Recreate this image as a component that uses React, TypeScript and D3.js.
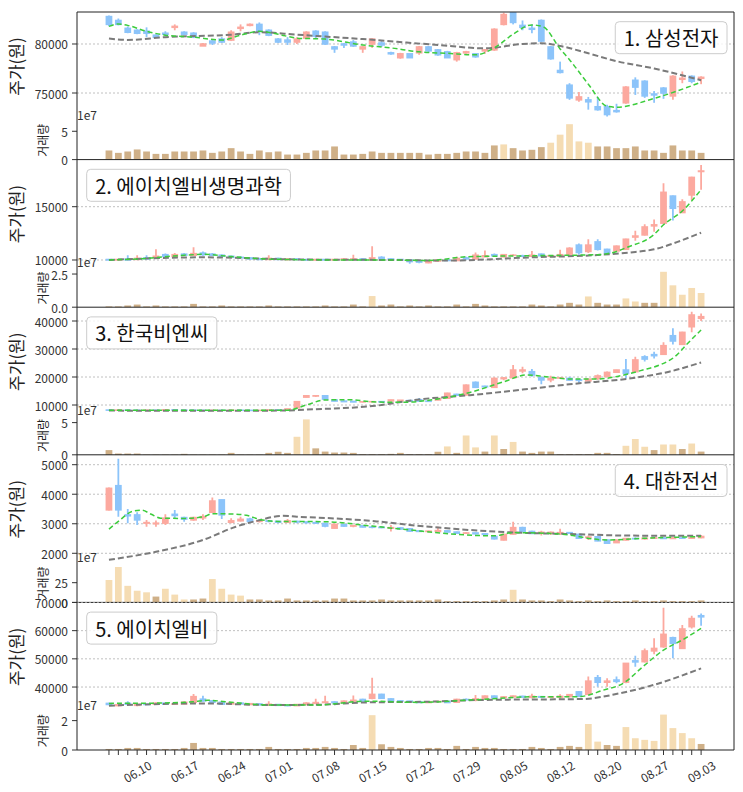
import React, { useEffect, useRef } from 'react';
import * as d3 from 'd3';

// trading days (2021), one candle each
const DATES = [
  '06.07', '06.08', '06.09', '06.10', '06.11', '06.14', '06.15', '06.16', '06.17', '06.18',
  '06.21', '06.22', '06.23', '06.24', '06.25', '06.28', '06.29', '06.30',
  '07.01', '07.02', '07.05', '07.06', '07.07', '07.08', '07.09', '07.12', '07.13', '07.14',
  '07.15', '07.16', '07.19', '07.20', '07.21', '07.22', '07.23', '07.26', '07.27', '07.28',
  '07.29', '07.30',
  '08.02', '08.03', '08.04', '08.05', '08.06', '08.09', '08.10', '08.11', '08.12', '08.13',
  '08.17', '08.18', '08.19', '08.20', '08.23', '08.24', '08.25', '08.26', '08.27', '08.30',
  '08.31',
  '09.01', '09.02', '09.03',
];
const TICK_LABELS = ['06.10', '06.17', '06.24', '07.01', '07.08', '07.15', '07.22', '07.29', '08.05', '08.12', '08.20', '08.27', '09.03'];

type OHLC = [number, number, number, number]; // open, high, low, close

// 1. 삼성전자
const SAMSUNG_OHLC: OHLC[] = [
  [82800, 82900, 81800, 82000], [82400, 82600, 81900, 82000], [81600, 81800, 81100, 81200], [81400, 81500, 81000, 81100],
  [81300, 81700, 80700, 81100], [80900, 81000, 80600, 80700], [81100, 81300, 80800, 81000], [81700, 82000, 81400, 81800],
  [81200, 81300, 80900, 81000], [81100, 81200, 80600, 80700], [79800, 80100, 79800, 80000], [80300, 80400, 79900, 80100],
  [80500, 80700, 80100, 80200], [80400, 81400, 80300, 81200], [81600, 82000, 81300, 81700], [81900, 82100, 81800, 82000],
  [82000, 82200, 80900, 81300], [81400, 81500, 80800, 80900], [80500, 80600, 80100, 80200], [80400, 80700, 79900, 80200],
  [80200, 80700, 80000, 80500], [80600, 81300, 80500, 81200], [81300, 81400, 80500, 80800], [81200, 81300, 79900, 80000],
  [79700, 79800, 79100, 79500], [80000, 80100, 79600, 79900], [80200, 80400, 79700, 79800], [79500, 79800, 79100, 79700],
  [80000, 80600, 79600, 80500], [80100, 80300, 79700, 79900], [79100, 79200, 78900, 79000], [78600, 79100, 78500, 79000],
  [79000, 79000, 78600, 78600], [79100, 79800, 78900, 79700], [79700, 79800, 79100, 79300], [79400, 79500, 78800, 78900],
  [79200, 79300, 78600, 78600], [78400, 79200, 78200, 79100], [79100, 79300, 79000, 79200], [79000, 79000, 78600, 78700],
  [79300, 79500, 79000, 79400], [79400, 81600, 79300, 81500], [82000, 83200, 81900, 83000], [83500, 83600, 82000, 82200],
  [81900, 82400, 81400, 81700], [81600, 82000, 81100, 81500], [82400, 82500, 80200, 80300], [79700, 79800, 78400, 78500],
  [77300, 78200, 77000, 77100], [75800, 76000, 74300, 74500], [74300, 75100, 74100, 74600], [74300, 74600, 73300, 74100],
  [73600, 74600, 73200, 73300], [73600, 73800, 72600, 72800], [73200, 73900, 73000, 73100], [74000, 75700, 73900, 75600],
  [76300, 76600, 74800, 75600], [76200, 76300, 74500, 74700], [74900, 75200, 74000, 74800], [75500, 75600, 74400, 75000],
  [74700, 76800, 74300, 76700], [76400, 77200, 76000, 76500], [76700, 76800, 76000, 76200], [76500, 76700, 75900, 76600],
];
const SAMSUNG_VOL = [
  1.61, 1.19, 1.43, 1.79, 1.43, 1.01, 1.01, 1.43, 1.43, 1.43, 1.61, 1.19, 1.43, 2.02, 1.43, 1.01,
  1.61, 1.3, 1.43, 0.89, 0.89, 1.19, 1.61, 1.61, 2.32, 0.89, 0.89, 1.01, 1.43, 1.19, 1.19, 1.19,
  1.19, 1.19, 0.89, 1.01, 1.01, 1.19, 1.43, 1.43, 1.19, 2.5, 2.68, 2.02, 1.61, 1.73, 2.2, 2.98,
  4.4, 6.25, 3.21, 2.98, 2.32, 2.32, 2.02, 2.02, 2.32, 1.61, 1.61, 1.19, 2.5, 1.61, 1.61, 1.19,
];
const SAMSUNG_HOT = [42, 47, 48, 49, 50, 51];
const SAMSUNG_FAST = [
  [0, 81800], [1, 82050], [2, 81900], [4, 81300], [6, 80900], [9, 80700], [12, 80400], [14, 80900],
  [16, 81300], [18, 81000], [20, 80600], [23, 80500], [27, 79900], [30, 79600], [33, 79200], [36, 79050],
  [39, 78900], [41, 79600], [43, 81000], [45, 81950], [46.2, 81750], [48, 79500], [49, 78400], [51, 75900],
  [53, 73650], [54, 73550], [58, 74450], [63, 76100],
];
const SAMSUNG_SLOW = [
  [0, 80550], [2, 80420], [6, 80700], [13, 80950], [16, 81200], [20, 80950], [27, 80500], [35, 79900],
  [40, 79560], [44, 80000], [46, 80080], [48, 79800], [51, 79050], [54, 78250], [58, 77500], [63, 76300],
];

// 2. 에이치엘비생명과학
const HLBLS_OHLC: OHLC[] = [
  [10050, 10100, 9950, 10000], [10000, 10100, 9950, 10050], [10100, 10450, 10000, 10000], [10050, 10450, 10000, 10150],
  [10200, 10450, 10050, 10100], [10200, 11000, 10150, 10350], [10500, 10600, 10300, 10350], [10350, 10650, 10300, 10500],
  [10550, 10650, 10400, 10450], [10450, 11200, 10400, 10600], [10650, 10800, 10400, 10500], [10550, 10650, 10400, 10450],
  [10450, 10550, 10300, 10350], [10350, 10400, 10200, 10250], [10250, 10350, 10150, 10200], [10200, 10250, 10050, 10100],
  [10100, 10200, 10000, 10050], [10050, 10450, 10000, 10150], [10150, 10200, 10000, 10050], [10050, 10150, 9950, 10100],
  [10100, 10150, 10000, 10050], [10050, 10100, 9950, 10000], [10000, 10100, 9950, 10050], [10050, 10100, 9950, 10000],
  [10000, 10100, 9950, 10050], [10050, 10150, 10000, 10100], [10050, 10500, 10000, 10100], [10100, 10150, 9950, 10000],
  [10000, 11300, 9950, 10200], [10250, 10350, 10100, 10150], [10100, 10150, 10000, 10050], [10050, 10100, 9950, 10000],
  [10000, 10050, 9650, 9850], [9900, 9950, 9700, 9800], [9750, 9950, 9700, 9900], [9900, 10050, 9850, 10000],
  [10000, 10050, 9900, 9950], [9950, 10300, 9900, 10150], [10200, 10300, 10050, 10100], [10100, 10700, 10050, 10450],
  [10300, 10900, 10250, 10400], [10500, 10600, 10350, 10400], [10300, 10550, 10250, 10500], [10450, 10550, 10350, 10450],
  [10400, 10500, 10300, 10350], [10350, 10850, 10300, 10450], [10550, 10600, 10300, 10400], [10350, 10450, 10250, 10400],
  [10350, 10950, 10300, 10500], [10550, 11200, 10500, 11100], [11400, 11550, 10500, 10700], [10800, 11950, 10650, 11400],
  [11700, 11950, 10900, 11000], [11000, 11050, 10550, 10650], [10850, 11350, 10800, 11300], [11000, 12000, 10950, 11950],
  [12150, 12750, 11800, 12250], [12350, 13350, 12300, 13100], [13200, 13800, 12650, 13300], [13450, 17200, 13400, 16350],
  [16000, 16050, 13700, 14850], [14450, 15700, 14400, 15450], [16100, 17800, 15600, 17750], [18300, 18900, 16600, 18350],
];
const HLBLS_VOL = [
  0.06, 0.06, 0.13, 0.2, 0.06, 0.13, 0.06, 0.06, 0.06, 0.25, 0.06, 0.06, 0.13, 0.06, 0.06, 0.06,
  0.06, 0.13, 0.06, 0.06, 0.06, 0.06, 0.06, 0.13, 0.06, 0.06, 0.2, 0.06, 0.84, 0.13, 0.2, 0.06,
  0.13, 0.06, 0.13, 0.06, 0.06, 0.2, 0.06, 0.25, 0.13, 0.06, 0.06, 0.06, 0.06, 0.2, 0.13, 0.06,
  0.2, 0.33, 0.2, 0.81, 0.33, 0.2, 0.2, 0.66, 0.43, 0.33, 0.33, 2.67, 1.65, 0.94, 1.45, 1.07,
];
const HLBLS_HOT = [28, 51, 55, 56, 59, 60, 61, 62, 63];
const HLBLS_FAST = [
  [0, 10000], [4, 10150], [8, 10450], [10, 10530], [13, 10320], [17, 10090], [25, 10000], [30, 10000],
  [34, 9950], [38, 10300], [45, 10400], [52, 10500], [54, 10800], [55, 11150], [58, 12400], [59, 13300],
  [61, 14600], [63, 16600],
];
const HLBLS_SLOW = [
  [0, 10000], [10, 10250], [20, 10050], [30, 10000], [36, 9950], [45, 10250], [52, 10470], [56, 10750],
  [58, 11000], [60.5, 11700], [63, 12560],
];

// 3. 한국비엔씨
const BNC_OHLC: OHLC[] = [
  [8200, 8300, 8100, 8150], [8150, 8250, 8100, 8200], [8200, 8250, 8100, 8150], [8150, 8200, 8050, 8100],
  [8100, 8200, 8050, 8150], [8150, 8200, 8100, 8120], [8150, 8400, 8100, 8300], [8300, 8350, 8150, 8200],
  [8200, 8250, 8100, 8150], [8150, 8200, 8050, 8100], [8100, 8150, 8000, 8050], [8050, 8150, 8000, 8100],
  [8100, 8150, 8050, 8080], [8080, 8200, 8000, 8150], [8150, 8200, 8050, 8100], [8100, 8150, 8000, 8050],
  [8050, 8100, 8000, 8080], [8080, 8300, 8050, 8250], [8250, 8400, 8150, 8200], [8200, 8700, 8150, 8600],
  [9000, 11300, 8900, 11200], [12800, 13600, 12700, 13300], [13200, 13500, 12900, 13300], [13300, 13400, 12000, 12100],
  [11800, 11900, 11300, 11400], [11400, 11600, 11100, 11200], [11300, 11400, 11000, 11100], [11100, 11300, 10900, 11150],
  [11150, 11400, 11000, 11200], [11200, 11300, 11000, 11100], [11450, 11900, 11300, 11800], [11500, 11800, 11400, 11700],
  [11600, 11700, 11300, 11400], [11900, 12500, 11200, 11400], [11400, 11600, 11200, 11300], [11800, 12400, 11700, 12350],
  [12400, 14400, 12200, 14200], [13800, 14000, 13300, 13500], [13600, 17300, 13500, 17100], [18100, 18400, 16100, 16300],
  [16700, 16900, 16300, 16500], [16300, 19900, 16100, 19500], [19400, 19900, 18800, 19700], [19750, 24300, 19600, 22500],
  [22150, 23700, 21300, 22500], [21900, 22850, 20100, 20700], [19750, 20100, 17400, 18950], [19000, 20450, 18100, 19400],
  [19600, 20000, 19300, 19750], [19500, 20100, 18700, 18900], [19000, 19300, 17700, 18800], [18600, 19300, 18500, 19250],
  [19500, 20900, 18900, 20400], [20150, 22000, 20100, 21650], [21700, 22600, 21600, 22500], [22500, 26400, 19500, 21300],
  [21900, 27200, 21700, 26100], [27200, 27800, 25500, 26400], [28000, 29000, 26600, 27600], [28100, 32400, 27850, 31200],
  [34750, 37400, 31650, 32850], [31650, 36200, 31400, 35950], [37950, 43300, 35950, 42150], [40950, 42700, 40000, 41550],
];
const BNC_VOL = [
  0.73, 0.2, 0.2, 0.2, 0.05, 0.05, 0.05, 0.05, 0.15, 0.05, 0.05, 0.05, 0.05, 0.3, 0.05, 0.05,
  0.05, 0.3, 0.47, 0.3, 2.8, 5.5, 1.0, 0.5, 0.35, 0.35, 0.3, 0.1, 0.1, 0.1, 0.15, 0.3,
  0.1, 0.1, 0.1, 0.47, 1.3, 0.3, 3.0, 1.15, 0.5, 3.0, 0.9, 2.0, 0.5, 0.3, 0.5, 0.5,
  0.1, 0.1, 0.1, 0.1, 0.3, 0.3, 0.1, 1.4, 2.45, 1.25, 0.73, 1.6, 1.6, 0.9, 1.75, 0.5,
];
const BNC_HOT = [20, 21, 36, 38, 39, 41, 43, 55, 56, 57, 59, 60, 62];
const BNC_FAST = [
  [0, 8100], [10, 8100], [19, 8150], [21, 10000], [23, 11800], [25.6, 11900], [28, 11150], [31, 10950],
  [35, 12150], [38.4, 14500], [42, 18300], [44.4, 20700], [46.5, 20100], [49, 19300], [52, 19300], [54.3, 20350],
  [56.8, 22500], [58.6, 24300], [60.4, 27800], [61.4, 31400], [63, 36800],
];
const BNC_SLOW = [
  [0, 8000], [10, 7950], [18, 8000], [22, 8500], [25, 8900], [28, 9600], [33, 12000], [38.4, 13500],
  [44, 15500], [49, 17400], [56, 19750], [59.6, 21900], [63, 25200],
];

// 4. 대한전선
const TAIHAN_OHLC: OHLC[] = [
  [3470, 4230, 3450, 4200], [4290, 5200, 3240, 3470], [3300, 3500, 3020, 3270], [3300, 3390, 2960, 3130],
  [3020, 3130, 2900, 3040], [3000, 3110, 2900, 3020], [3020, 3320, 2960, 3190], [3320, 3470, 3160, 3280],
  [3210, 3240, 3070, 3160], [3130, 3240, 3100, 3210], [3200, 3320, 3130, 3240], [3390, 3890, 3360, 3770],
  [3810, 3810, 3160, 3300], [3050, 3190, 3020, 3100], [3100, 3240, 3080, 3150], [3160, 3200, 3050, 3080],
  [3080, 3150, 3040, 3100], [3100, 3120, 3050, 3080], [3080, 3100, 3020, 3050], [3050, 3160, 3030, 3100],
  [3080, 3100, 3020, 3060], [3060, 3080, 3000, 3040], [3040, 3070, 3000, 3020], [3010, 3030, 2880, 2920],
  [2850, 3010, 2830, 2980], [2970, 3000, 2900, 2920], [2920, 2960, 2880, 2940], [2930, 2950, 2870, 2890],
  [2890, 2930, 2850, 2880], [2880, 2920, 2850, 2870], [2850, 2960, 2740, 2870], [2860, 2880, 2800, 2820],
  [2830, 2850, 2730, 2750], [2760, 2790, 2720, 2740], [2740, 2770, 2700, 2750], [2740, 2900, 2730, 2770],
  [2760, 2780, 2700, 2720], [2720, 2740, 2670, 2680], [2680, 2710, 2650, 2690], [2690, 2700, 2640, 2660],
  [2660, 2680, 2620, 2640], [2570, 2590, 2470, 2490], [2450, 2650, 2430, 2640], [2650, 3070, 2640, 2870],
  [2870, 2900, 2720, 2740], [2740, 2760, 2660, 2670], [2690, 2760, 2600, 2710], [2690, 2740, 2620, 2710],
  [2680, 2830, 2620, 2700], [2700, 2720, 2660, 2680], [2640, 2660, 2500, 2510], [2530, 2600, 2450, 2550],
  [2560, 2580, 2410, 2420], [2450, 2460, 2330, 2340], [2360, 2460, 2350, 2450], [2450, 2520, 2430, 2500],
  [2500, 2540, 2470, 2490], [2490, 2530, 2460, 2510], [2510, 2550, 2480, 2520], [2520, 2540, 2480, 2500],
  [2500, 2540, 2480, 2520], [2520, 2550, 2490, 2510], [2510, 2540, 2490, 2530], [2530, 2620, 2510, 2570],
];
const TAIHAN_VOL = [
  28.4, 44.9, 21, 14.8, 12.8, 7.4, 17.3, 9.9, 3.7, 3.7, 4.9, 29.6, 17.3, 9.9, 8.6, 3.7,
  3.7, 2.5, 2.5, 4.9, 2.5, 2.5, 2.5, 2.5, 4.9, 4.9, 2.5, 2.5, 2.5, 3.7, 2.5, 2.5,
  2.5, 2.5, 2.5, 3.7, 1.6, 1.6, 1.6, 1.6, 1.6, 2.5, 3.7, 16, 3.7, 2.5, 2.5, 1.6,
  3.7, 2.5, 1.6, 2.5, 1.6, 2.5, 1.6, 1.6, 2.5, 1.6, 1.6, 2.5, 1.6, 1.6, 1.6, 2.5,
];
const TAIHAN_HOT = [0, 1, 2, 3, 4, 6, 7, 8, 11, 12, 13, 14, 43];
const TAIHAN_FAST = [
  [0, 2820], [1, 3080], [2.5, 3420], [3.5, 3460], [4.5, 3320], [5.5, 3190], [8, 3180], [10, 3230],
  [11, 3340], [13, 3330], [14.6, 3290], [16, 3150], [18, 3080], [23, 3070], [28, 2920], [32, 2790],
  [37, 2640], [41, 2590], [43, 2700], [48, 2650], [53, 2450], [57, 2510], [63, 2565],
];
const TAIHAN_SLOW = [
  [0, 1780], [5, 2050], [10, 2450], [13.5, 2900], [16, 3120], [18.5, 3270], [20, 3240], [24, 3180],
  [28.5, 3080], [32, 2960], [37, 2820], [42.6, 2710], [50, 2645], [55, 2600], [63, 2590],
];

// 5. 에이치엘비
const HLB_OHLC: OHLC[] = [
  [34200, 34400, 33700, 33800], [33400, 33900, 33200, 33700], [34200, 35000, 33500, 33900], [33500, 34000, 33200, 33800],
  [33900, 34100, 33600, 33800], [33900, 34600, 33800, 34300], [34300, 34500, 33800, 33900], [33900, 34200, 33700, 34000],
  [34000, 35000, 33900, 34600], [34600, 37500, 34500, 36600], [35700, 36900, 34800, 35100], [35100, 35300, 34500, 34600],
  [34600, 34800, 33800, 33900], [34000, 34500, 33800, 34400], [34300, 34500, 33900, 34000], [33800, 34300, 33700, 34100],
  [34000, 34200, 33500, 33700], [33600, 35000, 33400, 33900], [33800, 33900, 33300, 33500], [33500, 33800, 33200, 33400],
  [33400, 33900, 33300, 33800], [33800, 34600, 33700, 34300], [34200, 35800, 34000, 34500], [34500, 36900, 34300, 34700],
  [34700, 35000, 34200, 34500], [34500, 35200, 34300, 35000], [35000, 37000, 34800, 35300], [35600, 35800, 34900, 35000],
  [36000, 43300, 35700, 37400], [37400, 37600, 35800, 36000], [35800, 36000, 35000, 35100], [35100, 35300, 34800, 35000],
  [35000, 35100, 34600, 34800], [34800, 35000, 34400, 34500], [34500, 35000, 34400, 34800], [34800, 35000, 34600, 34900],
  [34900, 35000, 34400, 34500], [34600, 35800, 34500, 35600], [35600, 35900, 35300, 35500], [35300, 37200, 35000, 35800],
  [35900, 37000, 35700, 36800], [36800, 37000, 35900, 36200], [36300, 36700, 36000, 36500], [36500, 37000, 36300, 36800],
  [36700, 36900, 36200, 36400], [36300, 37600, 36000, 36700], [36600, 36800, 36200, 36400], [36400, 36700, 36100, 36500],
  [36400, 37400, 35800, 36700], [36600, 37500, 36400, 37300], [38300, 38500, 36500, 36700], [37400, 43700, 37200, 42100],
  [43300, 44300, 40100, 41700], [41700, 43100, 40100, 42100], [42500, 43700, 41300, 42000], [41700, 48400, 41300, 48400],
  [49300, 51100, 47200, 48900], [49000, 53700, 48700, 52800], [52800, 57300, 51600, 53700], [54300, 68100, 53900, 58700],
  [57500, 57800, 50200, 55500], [53700, 62000, 53600, 60600], [61400, 65300, 60800, 64300], [65300, 66100, 61700, 64900],
];
const HLB_VOL = [
  0.07, 0.07, 0.14, 0.14, 0.07, 0.07, 0.07, 0.07, 0.14, 0.48, 0.14, 0.14, 0.07, 0.07, 0.07, 0.07,
  0.07, 0.21, 0.07, 0.07, 0.07, 0.14, 0.14, 0.21, 0.14, 0.07, 0.34, 0.14, 2.37, 0.39, 0.21, 0.14,
  0.07, 0.07, 0.14, 0.14, 0.07, 0.28, 0.07, 0.21, 0.14, 0.14, 0.07, 0.07, 0.07, 0.21, 0.14, 0.07,
  0.21, 0.28, 0.21, 1.77, 0.57, 0.34, 0.28, 1.56, 0.8, 0.69, 0.62, 2.41, 1.49, 1.15, 0.8, 0.41,
];
const HLB_HOT = [28, 51, 52, 55, 56, 57, 58, 59, 60, 61, 62];
const HLB_FAST = [
  [0, 34200], [5, 34300], [9, 34800], [10.5, 35300], [13, 34600], [17, 33650], [22, 33600], [27.5, 35000],
  [33, 34550], [38.4, 35400], [45.5, 36550], [50, 36600], [52.6, 38900], [54.7, 41300], [56.8, 47200], [59, 53100],
  [61, 56700], [63, 60800],
];
const HLB_SLOW = [
  [0, 33400], [10, 34200], [17, 33650], [22, 33700], [27.5, 34550], [34, 34800], [39.5, 35400], [50.4, 35750],
  [54.3, 37750], [57.9, 40700], [63, 46600],
];

const VOL_UNIT = 1e7;

const PANELS = [
  { title: '1. 삼성전자', side: 'right', ohlc: SAMSUNG_OHLC, vol: SAMSUNG_VOL, hot: SAMSUNG_HOT, fast: SAMSUNG_FAST, slow: SAMSUNG_SLOW,
    yDomain: [72143, 83265], yTicks: [75000, 80000], vTicks: [0, 5], vFmt: 'd' },
  { title: '2. 에이치엘비생명과학', side: 'left', ohlc: HLBLS_OHLC, vol: HLBLS_VOL, hot: HLBLS_HOT, fast: HLBLS_FAST, slow: HLBLS_SLOW,
    yDomain: [9193, 19418], yTicks: [10000, 15000], vTicks: [0, 2.5], vFmt: '.1f' },
  { title: '3. 한국비엔씨', side: 'left', ohlc: BNC_OHLC, vol: BNC_VOL, hot: BNC_HOT, fast: BNC_FAST, slow: BNC_SLOW,
    yDomain: [6000, 44929], yTicks: [10000, 20000, 30000, 40000], vTicks: [0, 5], vFmt: 'd' },
  { title: '4. 대한전선', side: 'right', ohlc: TAIHAN_OHLC, vol: TAIHAN_VOL, hot: TAIHAN_HOT, fast: TAIHAN_FAST, slow: TAIHAN_SLOW,
    yDomain: [1644, 5335], yTicks: [2000, 3000, 4000, 5000], vTicks: [0, 25], vFmt: 'd' },
  { title: '5. 에이치엘비', side: 'left', ohlc: HLB_OHLC, vol: HLB_VOL, hot: HLB_HOT, fast: HLB_FAST, slow: HLB_SLOW,
    yDomain: [31357, 70020], yTicks: [40000, 50000, 60000, 70000], vTicks: [0, 2], vFmt: 'd' },
];

const W = 743;
const H = 792;
const LEFT = 77;
const RIGHT = 734;
const TOP = 12;
const PANEL_H = 147.6;
const PRICE_H = 109;
const FONT = '"Noto Sans CJK KR", "Noto Sans", sans-serif';

const UP = '#fca99f';
const DOWN = '#8cc4fa';
const VOL_DARK = '#cfb088';
const VOL_LIGHT = '#f5dcb3';

export default function App() {
  const svgRef = useRef<SVGSVGElement>(null);

  useEffect(() => {
    if (!svgRef.current) return;
    const svg = d3.select(svgRef.current);
    svg.selectAll('*').remove();

    const x = d3.scaleLinear().domain([-3.4, 66.5]).range([LEFT, RIGHT]);
    const step = x(1) - x(0);
    const bw = step * 0.72;
    const bottomAll = TOP + PANEL_H * PANELS.length;
    const boxes = svg.append('g');

    PANELS.forEach((p, k) => {
      const top = TOP + k * PANEL_H;
      const split = top + PRICE_H;
      const bottom = top + PANEL_H;
      const y = d3.scaleLinear().domain(p.yDomain).range([split, top]);
      const vmax = (d3.max(p.vol) as number) * 1.09;
      const yv = d3.scaleLinear().domain([0, vmax]).range([bottom, split]);
      const g = svg.append('g');

      const clipId = `price-clip-${k}`;
      svg.append('clipPath').attr('id', clipId)
        .append('rect').attr('x', LEFT).attr('y', top).attr('width', RIGHT - LEFT).attr('height', PRICE_H);

      // price grid
      g.append('g').selectAll('line').data(p.yTicks).join('line')
        .attr('x1', LEFT).attr('x2', RIGHT)
        .attr('y1', d => y(d)).attr('y2', d => y(d))
        .attr('stroke', '#b0b0b0').attr('stroke-width', 0.8).attr('stroke-dasharray', '2,2');

      // candles
      const cg = g.append('g').attr('clip-path', `url(#${clipId})`);
      const candle = cg.append('g').selectAll('g').data(p.ohlc).join('g');
      candle.append('line')
        .attr('x1', (d, i) => x(i)).attr('x2', (d, i) => x(i))
        .attr('y1', d => y(d[1])).attr('y2', d => y(d[2]))
        .attr('stroke', d => (d[3] >= d[0] ? UP : DOWN)).attr('stroke-width', 1.8);
      candle.append('rect')
        .attr('x', (d, i) => x(i) - bw / 2).attr('width', bw)
        .attr('y', d => y(Math.max(d[0], d[3])) - 0.75)
        .attr('height', d => Math.abs(y(d[0]) - y(d[3])) + 1.5)
        .attr('fill', d => (d[3] >= d[0] ? UP : DOWN));

      // moving averages
      const line = d3.line<number[]>().x(d => x(d[0])).y(d => y(d[1])).curve(d3.curveMonotoneX);
      cg.append('path').attr('d', line(p.slow)).attr('fill', 'none')
        .attr('stroke', '#7a7a7a').attr('stroke-width', 2).attr('stroke-dasharray', '6,3');
      cg.append('path').attr('d', line(p.fast)).attr('fill', 'none')
        .attr('stroke', '#3ccc3c').attr('stroke-width', 1.5).attr('stroke-dasharray', '5,3');

      // volume (values in units of 1e7)
      g.append('g').selectAll('rect').data(p.vol).join('rect')
        .attr('x', (d, i) => x(i) - bw / 2).attr('width', bw)
        .attr('y', d => yv(d)).attr('height', d => bottom - yv(d))
        .attr('fill', (d, i) => (p.hot.includes(i) ? VOL_LIGHT : VOL_DARK));

      // y ticks
      const tickG = g.append('g').attr('font-family', FONT).attr('font-size', 12).attr('fill', '#333');
      p.yTicks.forEach(t => {
        tickG.append('line').attr('x1', LEFT - 5).attr('x2', LEFT).attr('y1', y(t)).attr('y2', y(t)).attr('stroke', '#333');
        tickG.append('text').attr('x', LEFT - 9).attr('y', y(t)).attr('text-anchor', 'end')
          .attr('dominant-baseline', 'central').text(t);
      });
      const vf = d3.format(p.vFmt);
      p.vTicks.forEach(t => {
        const yy = yv(t);
        tickG.append('line').attr('x1', LEFT - 5).attr('x2', LEFT).attr('y1', yy).attr('y2', yy).attr('stroke', '#333');
        tickG.append('text').attr('x', LEFT - 9).attr('y', yy).attr('text-anchor', 'end')
          .attr('dominant-baseline', 'central').text(vf(t));
      });
      tickG.append('text').attr('x', LEFT).attr('y', top + 102).attr('dominant-baseline', 'central')
        .text(`1e${Math.log10(VOL_UNIT)}`);

      // axis labels
      g.append('text').attr('transform', `translate(15,${(top + split) / 2}) rotate(-90)`)
        .attr('text-anchor', 'middle').attr('dominant-baseline', 'central')
        .attr('font-family', FONT).attr('font-size', 17).attr('fill', '#222').text('주가(원)');
      g.append('text').attr('transform', `translate(42,${(split + bottom) / 2}) rotate(-90)`)
        .attr('text-anchor', 'middle').attr('dominant-baseline', 'central')
        .attr('font-family', FONT).attr('font-size', 12).attr('fill', '#222').text('거래량');

      // separator / bottom spine
      g.append('line').attr('x1', LEFT).attr('x2', RIGHT).attr('y1', bottom).attr('y2', bottom)
        .attr('stroke', '#222').attr('stroke-width', 1);

      // title box
      const box = boxes.append('g');
      const rect = box.append('rect').attr('rx', 4).attr('ry', 4)
        .attr('fill', 'white').attr('fill-opacity', 0.8).attr('stroke', '#cccccc');
      const txt = box.append('text').attr('font-family', FONT).attr('font-size', 20).attr('fill', '#111')
        .attr('dominant-baseline', 'central').attr('y', top + 25.7).text(p.title);
      const tw = (txt.node() as SVGTextElement).getComputedTextLength();
      const bwid = tw + 17;
      const bx = p.side === 'right' ? RIGHT - 7 - bwid : LEFT + 9.7;
      rect.attr('x', bx).attr('y', top + 9.7).attr('width', bwid).attr('height', 32);
      txt.attr('x', bx + 8.5);
    });
    boxes.raise();

    // outer frame
    svg.append('line').attr('x1', LEFT).attr('x2', RIGHT).attr('y1', TOP).attr('y2', TOP).attr('stroke', '#222');
    svg.append('line').attr('x1', LEFT).attr('x2', LEFT).attr('y1', TOP).attr('y2', bottomAll).attr('stroke', '#222');
    svg.append('line').attr('x1', RIGHT).attr('x2', RIGHT).attr('y1', TOP).attr('y2', bottomAll).attr('stroke', '#222');

    // x axis
    const xa = svg.append('g').attr('font-family', FONT).attr('font-size', 12).attr('fill', '#333');
    DATES.forEach((d, i) => {
      xa.append('line').attr('x1', x(i)).attr('x2', x(i)).attr('y1', bottomAll).attr('y2', bottomAll + 5).attr('stroke', '#333');
    });
    TICK_LABELS.forEach(lbl => {
      const i = DATES.indexOf(lbl);
      xa.append('text').attr('transform', `translate(${x(i)},${bottomAll + 21}) rotate(-30)`)
        .attr('text-anchor', 'middle').attr('dominant-baseline', 'central').text(lbl);
    });
  }, []);

  return (
    <div style={{ position: 'absolute', left: 0, top: 0, background: 'white' }}>
      <svg ref={svgRef} width={W} height={H} style={{ display: 'block' }} />
    </div>
  );
}
